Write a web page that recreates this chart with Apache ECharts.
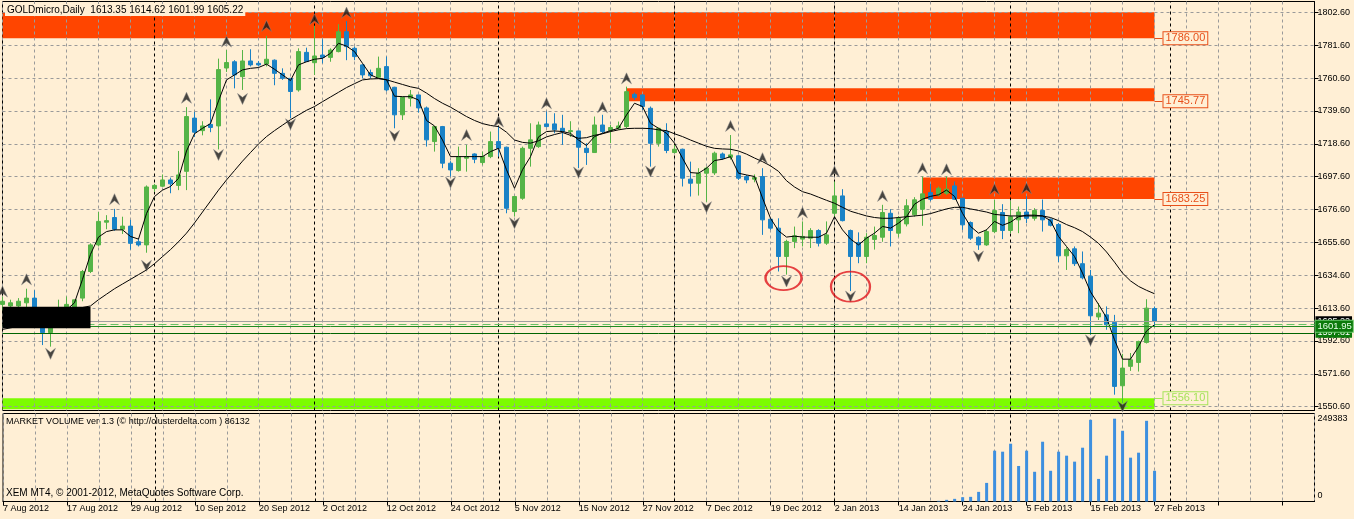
<!DOCTYPE html>
<html><head><meta charset="utf-8">
<script src="https://cdn.jsdelivr.net/npm/echarts@6/dist/echarts.min.js"></script>
<style>html,body{margin:0;padding:0;background:#FFEFD5}#c{width:1354px;height:519px}</style>
</head><body><div id="c"></div>
<script>
// ---- data ----
const opens = [1616,1615,1615,1617,1620,1609,1598,1609,1612,1614,
1620,1637,1654,1668.5,1671.5,1664,1666,1656,1654,1690,
1691.5,1695.5,1692,1701,1735,1727,1731,1730,1767,1771,
1761.5,1771.5,1770,1769.6,1772,1763.6,1760.4,1753,1777,1770.4,
1775.3,1773.8,1777.5,1790.2,1779.6,1769,1764.1,1761.1,1767.9,1754.7,
1737.1,1747.7,1749.8,1741.5,1720,1729.6,1706.2,1701.5,1709.4,1712.1,
1706.6,1710.4,1720,1716.4,1675.3,1683.8,1715.7,1716.8,1731.3,1731.3,
1728.5,1726.4,1726.8,1715.7,1713,1730.6,1727,1728.5,1729.6,1750.2,
1749.8,1741.3,1718.9,1726.4,1713,1715.1,1696,1693.4,1699.8,1700,
1712.1,1710,1710.9,1697.7,1696,1697.7,1670.4,1664.7,1646.6,1656.2,
1657.7,1658.3,1663.2,1655.1,1674.2,1685.3,1663.2,1655.5,1646.6,1657.5,
1658.9,1674.2,1661.5,1667.4,1673.2,1676.8,1687.4,1685.9,1687,1691.7,
1683.8,1668.3,1658.9,1654,1662.5,1674.7,1663.2,1670,1675,1671,
1676,1670.4,1667,1647,1651.5,1642,1634,1608,1609.3,1604.5,
1564,1576.4,1578.9,1591.7,1613.35];
const highs = [1621,1619,1620,1626,1625,1612,1605,1619,1621,1619,
1638,1655,1675,1673,1677,1672,1670,1658,1692,1693,
1699,1697,1714,1742,1739,1733,1747,1773,1778.5,1772,
1778.5,1779,1771.5,1787.5,1772.5,1766.8,1760.6,1779.6,1780,1794,
1785.3,1779.6,1795,1797,1780.7,1769.5,1766,1774.3,1774.3,1755,
1748.7,1753,1750,1742.4,1729.8,1730,1707.5,1716.8,1717.9,1712.5,
1713.6,1726.4,1729.6,1716.8,1685,1716.8,1731.7,1732.8,1739.2,1738.1,
1737.1,1733,1727,1719,1736,1737.1,1730.6,1732.8,1755.1,1751.3,
1750.2,1742.4,1728.8,1731.7,1717.9,1715.5,1707.2,1703,1704,1713.6,
1713,1724.2,1711.5,1698.7,1699,1703,1671,1671,1657.3,1665.7,
1669,1664.7,1664,1669,1694.5,1689.6,1663.8,1662,1661.5,1665.7,
1679.6,1676.8,1672.5,1683.2,1684.5,1697.7,1693,1691.3,1697.8,1694.5,
1684,1669,1659.5,1664,1682.8,1680,1682,1678.5,1685,1677.5,
1683,1671,1668,1652.5,1653,1649.8,1638,1616.8,1614.7,1609.3,
1584.4,1584.9,1592.8,1619.3,1614.62];
const lows = [1612,1612,1611,1612,1608,1590,1589,1605,1606,1609,
1618,1636,1653,1664,1663,1661,1651,1653,1649,1688,
1691,1687,1689,1689,1723,1724,1726,1715,1764.5,1754,
1753,1768,1768,1768,1756,1759.4,1735,1751.9,1771,1762.6,
1770,1771,1777,1772,1772,1760.4,1760.5,1760.4,1752,1728.5,
1733.8,1742.4,1738.5,1716.8,1713.6,1703,1697.7,1700.8,1700.8,1706.2,
1705.1,1709.4,1710.4,1674.2,1672.1,1682.8,1704,1716,1729,1725.3,
1717.9,1723,1703,1705.1,1713,1725.3,1719,1727.5,1728.5,1746.6,
1740.2,1704,1716.8,1712.6,1712.6,1691.3,1684.9,1685.5,1681.5,1698.7,
1708.3,1708.5,1695.5,1693.4,1694,1660.4,1663.6,1637,1635,1651.9,
1653,1652,1653,1654,1672,1669,1624.5,1642.3,1642.3,1651,
1656,1653,1659,1665.8,1672,1666.2,1682,1684.9,1685.9,1682.8,
1663.6,1657.2,1650.8,1653.4,1661.5,1657.7,1661.5,1661.5,1668,1669.5,
1662.5,1665.8,1643,1638,1640.5,1632,1596.6,1606,1599.8,1558.3,
1553,1573.5,1573.1,1591,1601.99];
const closes = [1618,1617,1618,1620,1610,1598,1609,1612,1616,1618.9,
1637,1654,1669,1669.5,1664,1666,1655,1654,1691,1692,
1695.5,1693,1698.7,1736,1726,1730,1729,1766,1770.5,1762.6,
1771.5,1769,1769,1772.6,1763.6,1760.4,1752,1777.5,1771.1,1774.7,
1773.8,1778.5,1790.2,1780.7,1774.3,1762.6,1762,1766.8,1753,1737.1,
1748.3,1749.8,1741.5,1721.1,1729.6,1706.2,1701.9,1710.4,1710.4,1708.7,
1710.4,1720,1715.7,1677.4,1684.9,1715.7,1721.1,1730.6,1729.6,1727.5,
1726.4,1727,1716.4,1713,1730.6,1726.4,1729,1730,1751.9,1748.1,
1742.4,1718.9,1728.5,1714.3,1715.1,1696.6,1693.4,1699.8,1703,1712.6,
1709.4,1711.5,1696.6,1695.5,1697,1670,1664.7,1646.6,1656.2,1659.8,
1659.4,1663.2,1655.1,1660.4,1685.3,1669.5,1646.6,1646.6,1658.9,1660,
1674.7,1663.2,1671,1679,1682.8,1686.6,1683.2,1690.2,1689.6,1683.2,
1666.8,1658.3,1654,1662.5,1675.9,1663.2,1672,1675,1671,1676,
1670,1666.5,1647,1651,1642,1633,1608.7,1610.4,1603,1563.6,
1575.3,1580.6,1592.3,1613.6,1605.22];
const maFast = [1612,1612.5,1613,1613.5,1613,1611,1609.5,1610,1612.5,1617,
1632,1648,1659,1662.5,1663.6,1663.6,1659.4,1657.7,1674,1684.9,
1689,1691.3,1696.5,1714,1725,1728.5,1731.5,1746,1759.4,1762.6,
1765.8,1766.8,1767.3,1769.5,1766.2,1762.6,1759,1769,1771,1772.6,
1773.2,1776.4,1782.8,1781,1777.5,1770,1762.6,1760.4,1759.5,1749,
1748.7,1748.7,1746.6,1733.5,1730,1721,1710.4,1710.4,1710.4,1710.4,
1710.4,1713.6,1715.7,1702,1690.2,1702,1710.4,1723,1726.4,1726.8,
1726.4,1725.3,1721,1717.5,1723.2,1725.3,1727,1728.5,1737,1744.5,
1742.4,1731.7,1728.5,1725.3,1719,1709.4,1700.2,1699.8,1703,1707.9,
1708.7,1710.4,1699.8,1698.7,1697.7,1684,1671,1663,1659,1659.6,
1659,1658.9,1658.9,1661.5,1672,1663.6,1657.7,1654,1658.3,1661.5,
1665.8,1664.7,1667.9,1672,1680,1683.2,1685,1686,1689,1685,
1674.2,1665.8,1661.5,1663.6,1669,1666.5,1668.5,1672,1673,1673,
1672.5,1669.5,1659.4,1653,1646.6,1636,1624,1616,1607.5,1593.4,
1581,1581,1589,1599,1603];
const maSlow = [1600,1601,1602,1603.5,1605,1606.5,1608,1609.5,1611,1612.5,
1614,1615,1619,1622.5,1626,1629,1632,1635,1638,1642,
1646.5,1651,1656,1661.5,1668,1675,1682,1689,1695.5,1701.5,
1707.5,1713,1718.5,1723.2,1727,1730.5,1734,1737,1740,1742.4,
1745.5,1748.5,1751.5,1754.5,1757,1759.4,1760,1760.2,1759.5,1758,
1756.5,1755,1754,1751,1747.5,1744.5,1742,1739,1736,1733.5,
1731.5,1730.3,1729.6,1726,1721,1719.5,1719,1720.5,1723,1724.5,
1725.8,1724,1722.1,1722.5,1724,1725,1726.4,1727.5,1728.3,1728.5,
1728.5,1728.3,1727.5,1727,1725,1723.2,1721,1719,1717,1715.7,
1715.3,1715.1,1714,1712,1709.5,1707.2,1704.5,1701,1695,1691,
1688,1686.5,1684.5,1682.5,1680.6,1678,1675.5,1674,1672.5,1671.5,
1671,1671,1671.5,1672,1672.5,1673,1674,1675.5,1677,1678,
1678,1677,1676,1675,1673.5,1673,1672.5,1672.5,1672.5,1672.5,
1672.5,1671.5,1669.5,1667,1665,1662.5,1659,1655,1649.5,1643,
1636,1631,1627.5,1625,1622.8];
const volStart = 117;
const volumes = [2000,5000,8000,13000,14000,29000,56000,153000,150000,174000,
107000,153000,89500,180000,92500,150000,138000,120000,162000,246000,
68000,138000,249383,213000,132000,147000,243000,92500];
const xTickLabels = ['7 Aug 2012','17 Aug 2012','29 Aug 2012','10 Sep 2012','20 Sep 2012','2 Oct 2012',
'12 Oct 2012','24 Oct 2012','5 Nov 2012','15 Nov 2012','27 Nov 2012','7 Dec 2012','19 Dec 2012',
'2 Jan 2013','14 Jan 2013','24 Jan 2013','5 Feb 2013','15 Feb 2013','27 Feb 2013'];
const priceTicks = [1550.6,1571.6,1592.6,1613.6,1634.6,1655.6,1676.6,1697.6,1718.6,1739.6,1760.6,1781.6,1802.6];
const volumeTicks = [0, 249383];
const fractalUp = [[0,1624.2],[3,1632],[14,1683.2],[23,1748],[28,1783.9],[33,1793.9],[39,1798.1],[43,1802.4],
[58,1724.2],[62,1732.8],[68,1744.5],[75,1741.9],[78,1760.4],[91,1730],[95,1709.4],[100,1674.7],
[104,1700.9],[110,1685.3],[115,1703],[118,1702.3],[124,1689.6],[128,1690.2]];
const fractalDown = [[6,1584.4],[18,1640.6],[27,1711.5],[30,1747.2],[36,1731.1],[49,1723.6],[56,1693.8],
[64,1667.9],[72,1700.2],[81,1700.9],[88,1678.1],[98,1630.6],[106,1621],[122,1646.6],[136,1593],[140,1550.8]];
const zoneStart = [0,78,115,0];
const zoneEnd = [144,144,144,144];
const zoneTop = [1802.6,1754.1,1697,1556.1];
const zoneBottom = [1786.0,1745.77,1683.25,1549.0];
const zoneLabelValue = [1786.00,1745.77,1683.25,1556.10];
const levelLines = [1605.22,1603.2,1601.95,1597.81];
const monthSeparators = [19,39,62,84,104,126,146];
const ellipses = [[98,1632.8],[106,1627.3]];
const hiddenBox = [[0,1614.5],[11,1600.8]];

// ---- categories (trading days) ----
const holidays = ['2012-12-25','2013-01-01'];
const cats = [];
(function(){
  const d = new Date(Date.UTC(2012,7,7));
  while (cats.length < opens.length) {
    const wd = d.getUTCDay(); const s = d.toISOString().slice(0,10);
    if (wd !== 0 && wd !== 6 && holidays.indexOf(s) < 0) cats.push(s);
    d.setUTCDate(d.getUTCDate()+1);
  }
  for (let k = 1; k <= 20; k++) cats.push('pad' + k);
})();

const GREEN = '#55B447', BLUE = '#1A82C6', BG = '#FFEFD5';
const FONT = 'Liberation Sans';
const candles = opens.map((o,i)=>[o, closes[i], lows[i], highs[i]]);
const volData = cats.map((c,i)=> (i>=volStart && i-volStart<volumes.length) ? volumes[i-volStart] : null);
const last = opens.length-1;
const fmt = v => v.toFixed(2);

const zoneColors = ['#FF4500','#FF4500','#FF4500','#7CFC00'];
const zoneLabelColors = ['#E8501A','#E8501A','#E8501A','#A6E35A'];
const upPath = 'path://M5,0 L10,10 L5,6.5 L0,10 Z';
const downPath = 'path://M0,0 L5,3.5 L10,0 L5,10 Z';

const chart = echarts.init(document.getElementById('c'), null, {renderer:'canvas'});
chart.setOption({
  animation:false,
  backgroundColor: BG,
  textStyle:{fontFamily:FONT},
  title:[
    {text:'GOLDmicro,Daily  '+[opens[last],highs[last],lows[last],closes[last]].map(fmt).join(' '),
     left:5, top:4, padding:[1,2,1,2], backgroundColor:BG,
     textStyle:{fontSize:10, fontWeight:'normal', color:'#000', fontFamily:FONT}},
    {text:'MARKET VOLUME ver 1.3 (© http://clusterdelta.com ) 86132', left:6, top:417, padding:0,
     textStyle:{fontSize:9, fontWeight:'normal', color:'#000', fontFamily:FONT}},
    {text:'XEM MT4, © 2001-2012, MetaQuotes Software Corp.', left:6, top:488, padding:0,
     textStyle:{fontSize:10, fontWeight:'normal', color:'#000', fontFamily:FONT}}
  ],
  grid:[
    {left:2.5, right:39.5, top:1.5, height:409, show:true, borderColor:'#000', borderWidth:1, backgroundColor:'transparent'},
    {left:2.5, right:39.5, top:413.5, height:88, show:true, borderColor:'#000', borderWidth:1, backgroundColor:'transparent'}
  ],
  xAxis:[
    {type:'category', gridIndex:0, data:cats, boundaryGap:false, z:2,
     axisLine:{show:false}, axisTick:{show:false}, axisLabel:{show:false},
     splitLine:{show:true, interval:3, lineStyle:{color:'#9A9A9A', type:[3,3], width:1}}},
    {type:'category', gridIndex:1, data:cats, boundaryGap:false, z:2,
     axisLine:{show:true, lineStyle:{color:'#000'}},
     axisTick:{show:true, interval:7, length:4, lineStyle:{color:'#000'}},
     axisLabel:{show:true, interval:7, align:'left', margin:3, fontSize:9, color:'#000', fontFamily:FONT,
       formatter:(v,idx)=> (idx%8===0 && idx/8 < xTickLabels.length) ? xTickLabels[idx/8] : ''},
     splitLine:{show:true, interval:3, lineStyle:{color:'#9A9A9A', type:[3,3], width:1}}}
  ],
  yAxis:[
    {type:'value', gridIndex:0, position:'right', min:1548.2, max:1809.5, z:2,
     axisLine:{show:true, lineStyle:{color:'#000'}},
     axisTick:{show:true, length:4, customValues:priceTicks, lineStyle:{color:'#000'}},
     axisLabel:{show:true, customValues:priceTicks, formatter:v=>v.toFixed(2), margin:3, fontSize:9, color:'#000', fontFamily:FONT},
     splitLine:{show:false}},
    {type:'value', gridIndex:1, position:'right', min:0, max:265000,
     axisLine:{show:true, lineStyle:{color:'#000'}},
     axisTick:{show:false},
     axisLabel:{show:true, customValues:volumeTicks, margin:3, fontSize:9, color:'#000', fontFamily:FONT,
       formatter:v=> v===0 ? '{z|0}' : String(v), rich:{z:{padding:[0,0,12,0], fontSize:9, fontFamily:FONT, color:'#000'}}},
     splitLine:{show:false}}
  ],
  series:[
    {name:'zones', type:'line', xAxisIndex:0, yAxisIndex:0, data:[], z:1, silent:true,
     markArea:{silent:true, z:1, data: zoneTop.map((t,k)=>[
        {coord:[zoneStart[k], t], itemStyle:{color:zoneColors[k], opacity:1}},
        {coord:[zoneEnd[k], zoneBottom[k]]}])}},
    {name:'hgrid', type:'line', xAxisIndex:0, yAxisIndex:0, data:[], z:2, silent:true,
     markLine:{silent:true, symbol:['none','none'], z:2, label:{show:false},
       lineStyle:{color:'#9A9A9A', type:[3,3], width:1},
       data: priceTicks.map(v=>({yAxis:v}))}},
    {name:'sep0', type:'line', xAxisIndex:0, yAxisIndex:0, data:[], z:2, silent:true,
     markLine:{silent:true, symbol:['none','none'], z:2, label:{show:false},
       lineStyle:{color:'#000', type:[3,3], width:1},
       data: monthSeparators.map(i=>({xAxis:i}))}},
    {name:'sep1', type:'line', xAxisIndex:1, yAxisIndex:1, data:[], z:2, silent:true,
     markLine:{silent:true, symbol:['none','none'], z:2, label:{show:false},
       lineStyle:{color:'#000', type:[3,3], width:1},
       data: monthSeparators.map(i=>({xAxis:i}))}},
    {name:'GOLDmicro', type:'candlestick', xAxisIndex:0, yAxisIndex:0, data:candles, z:3,
     barWidth:4,
     itemStyle:{color:GREEN, color0:BLUE, borderColor:GREEN, borderColor0:BLUE, borderWidth:1}},
    {name:'MA fast', type:'line', xAxisIndex:0, yAxisIndex:0, data:maFast, z:4, symbol:'none',
     lineStyle:{color:'#000', width:1}},
    {name:'MA slow', type:'line', xAxisIndex:0, yAxisIndex:0, data:maSlow, z:4, symbol:'none',
     lineStyle:{color:'#000', width:1}},
    {name:'levels', type:'line', xAxisIndex:0, yAxisIndex:0, data:[], z:5, silent:true,
     markLine:{silent:true, symbol:['none','none'], z:5,
       data:[
        {yAxis:levelLines[0], lineStyle:{color:'#A0A0A0', type:'solid', width:1},
         label:{show:true, position:'end', distance:1, formatter:fmt(levelLines[0]), color:'#fff', backgroundColor:'#000', padding:[1,2,0,2], fontSize:9, fontFamily:FONT}},
        {yAxis:levelLines[1], lineStyle:{color:'#66C266', type:[8,4], width:1}, label:{show:false}},
        {yAxis:levelLines[3], lineStyle:{color:'#006400', type:'solid', width:1},
         label:{show:true, position:'end', distance:1, formatter:fmt(levelLines[3]), color:'#fff', backgroundColor:'#0B7A0B', padding:[1,2,0,2], fontSize:9, fontFamily:FONT}},
        {yAxis:levelLines[2], lineStyle:{color:'#228B22', type:'solid', width:1},
         label:{show:true, position:'end', distance:1, formatter:fmt(levelLines[2]), color:'#E8FFE8', backgroundColor:'#0B7A0B', borderColor:'#6FC96F', borderWidth:1, padding:[1,1,0,2], fontSize:9.5, fontFamily:FONT}}
       ]}},
    {name:'zoneLabels', type:'line', xAxisIndex:0, yAxisIndex:0, data:[], z:5, silent:true,
     markLine:{silent:true, symbol:['none','none'], z:5,
       data: zoneLabelValue.map((v,k)=>[
         {coord:[zoneEnd[k], v], lineStyle:{color:zoneLabelColors[k], width:1, type:'solid'},
          label:{show:true, position:'end', distance:1, formatter:fmt(v), color:zoneLabelColors[k],
            borderColor:zoneLabelColors[k], borderWidth:1, backgroundColor:BG, padding:[1,2,0,2], fontSize:11, fontFamily:FONT}},
         {coord:[zoneEnd[k]+1, v]}])}},
    {name:'hidden', type:'line', xAxisIndex:0, yAxisIndex:0, data:[], z:6, silent:true,
     markArea:{silent:true, z:6, itemStyle:{color:'#000', opacity:1},
       data:[[{coord:hiddenBox[0]},{coord:hiddenBox[1]}]]}},
    {name:'fractal up', type:'scatter', xAxisIndex:0, yAxisIndex:0, data:fractalUp, z:7,
     symbol:upPath, symbolSize:[10,11], itemStyle:{color:'#1A1A1A', borderColor:'#8A8A8A', borderWidth:0.6}},
    {name:'fractal down', type:'scatter', xAxisIndex:0, yAxisIndex:0, data:fractalDown, z:7,
     symbol:downPath, symbolSize:[10,11], itemStyle:{color:'#1A1A1A', borderColor:'#8A8A8A', borderWidth:0.6}},
    {name:'ellipse1', type:'scatter', xAxisIndex:0, yAxisIndex:0, data:[ellipses[0]], z:7,
     symbol:'circle', symbolSize:[36,24], symbolOffset:[-3,0],
     itemStyle:{color:'rgba(0,0,0,0)', borderColor:'#E0141B', borderWidth:2}},
    {name:'ellipse2', type:'scatter', xAxisIndex:0, yAxisIndex:0, data:[ellipses[1]], z:7,
     symbol:'circle', symbolSize:[39,30],
     itemStyle:{color:'rgba(0,0,0,0)', borderColor:'#E0141B', borderWidth:2}},
    {name:'Volume', type:'bar', xAxisIndex:1, yAxisIndex:1, data:volData, z:3, barWidth:3,
     itemStyle:{color:'#3D8FDF'}}
  ]
});
</script></body></html>
